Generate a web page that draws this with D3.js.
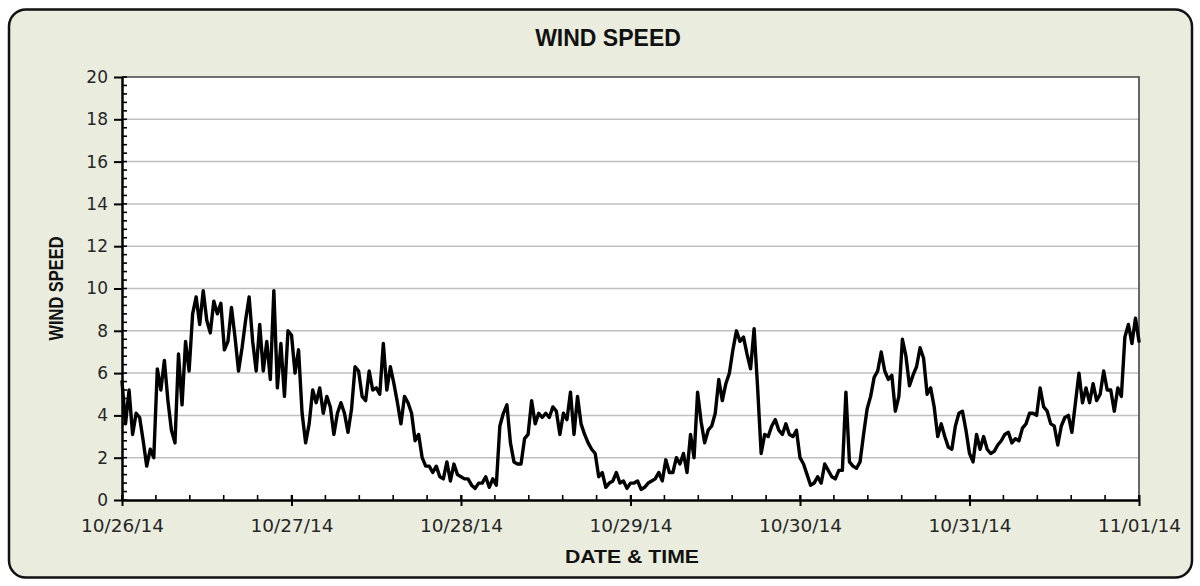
<!DOCTYPE html>
<html>
<head>
<meta charset="utf-8">
<script src="https://cdn.jsdelivr.net/npm/d3@7"></script>
<style>
  body { margin: 0; background: #fff; }
  svg { display: block; }
</style>
</head>
<body>
<div id="chart"></div>
<script>
// readings every 30 minutes starting 10/26/14 00:00
var startTime = "2014-10-26T00:00:00";
var endTime = "2014-11-01T00:00:00";
var stepMinutes = 30;

var speeds = [
  5.6, 3.6, 5.2, 3.1, 4.1, 3.9, 2.8, 1.6, 2.4, 2.0,
  6.2, 5.2, 6.6, 4.7, 3.3, 2.7, 6.9, 4.5, 7.5, 6.1,
  8.8, 9.6, 8.3, 9.9, 8.5, 7.9, 9.4, 8.8, 9.3, 7.1,
  7.5, 9.1, 7.7, 6.1, 7.2, 8.5, 9.6, 7.5, 6.1, 8.3,
  6.1, 7.5, 5.7, 9.9, 5.3, 7.4, 4.9, 8.0,
  7.8, 6.0, 7.1, 4.1, 2.7, 3.6, 5.2, 4.6, 5.3, 4.1,
  4.9, 4.4, 3.1, 4.1, 4.6, 4.1, 3.2, 4.3, 6.3, 6.1,
  4.9, 4.7, 6.1, 5.2, 5.3, 5.0, 7.4, 5.2, 6.3, 5.5,
  4.6, 3.6, 4.9, 4.6, 4.1, 2.8, 3.1, 2.0, 1.6, 1.6,
  1.3, 1.6, 1.1, 1.0, 1.8, 0.9, 1.7, 1.2,
  1.1, 1.0, 1.0, 0.7, 0.55, 0.8, 0.8, 1.1, 0.6, 1.0,
  0.7, 3.5, 4.1, 4.5, 2.7, 1.8, 1.7, 1.7, 2.9, 3.1,
  4.7, 3.6, 4.1, 3.9, 4.1, 3.9, 4.4, 4.2, 3.1, 4.1,
  3.8, 5.1, 3.1, 4.9, 3.6, 3.1, 2.7, 2.4, 2.2, 1.1,
  1.3, 0.6, 0.8, 0.9, 1.3, 0.8, 0.9, 0.55,
  0.8, 0.8, 0.9, 0.5, 0.6, 0.8, 0.9, 1.0, 1.3, 0.9,
  1.9, 1.3, 1.3, 2.0, 1.7, 2.2, 1.3, 3.1, 2.0, 5.1,
  3.7, 2.7, 3.3, 3.5, 4.1, 5.7, 4.7, 5.5, 6.0, 7.1,
  8.0, 7.5, 7.7, 6.9, 6.2, 8.1, 5.3, 2.2, 3.1, 3.0,
  3.5, 3.8, 3.3, 3.1, 3.6, 3.1, 3.0, 3.3, 2.0,
  1.7, 1.2, 0.7, 0.8, 1.1, 0.8, 1.7, 1.4, 1.1, 1.0,
  1.4, 1.4, 5.1, 1.8, 1.6, 1.5, 1.8, 3.1, 4.3, 4.9,
  5.8, 6.1, 7.0, 6.1, 5.7, 5.9, 4.2, 4.9, 7.6, 6.8,
  5.4, 5.9, 6.3, 7.2, 6.7, 5.0, 5.3, 4.4, 3.0, 3.6,
  3.0, 2.5, 2.4, 3.5, 4.1, 4.2, 3.3, 2.2,
  1.8, 3.1, 2.4, 3.0, 2.4, 2.2, 2.3, 2.6, 2.8, 3.1,
  3.2, 2.7, 2.9, 2.8, 3.4, 3.6, 4.1, 4.1, 4.0, 5.3,
  4.4, 4.2, 3.6, 3.5, 2.6, 3.5, 3.9, 4.0, 3.2, 4.6,
  6.0, 4.6, 5.3, 4.6, 5.5, 4.7, 5.0, 6.1, 5.2, 5.2,
  4.2, 5.3, 4.9, 7.7, 8.3, 7.4, 8.6, 7.5
];

var yTicks = [0, 2, 4, 6, 8, 10, 12, 14, 16, 18, 20];
var chartTitle = "WIND SPEED";
var xTitle = "DATE & TIME";
var yTitle = "WIND SPEED";

var svgWidth = 1200;
var svgHeight = 586;

var plot = { left: 122, right: 1139, top: 77, bottom: 500 };

var svg = d3.select("#chart").append("svg")
    .attr("width", svgWidth)
    .attr("height", svgHeight);

// outer frame
svg.append("rect")
    .attr("x", 9)
    .attr("y", 9.5)
    .attr("width", 1183)
    .attr("height", 568)
    .attr("rx", 17)
    .attr("fill", "#eaedde")
    .attr("stroke", "#111")
    .attr("stroke-width", 2.5);

var parse = d3.isoParse;
var t0 = parse(startTime);
var t1 = parse(endTime);

var data = speeds.map(function(v, i) {
  return { time: d3.timeMinute.offset(t0, i * stepMinutes), value: v };
});

var x = d3.scaleTime()
    .domain([t0, t1])
    .range([plot.left, plot.right]);

var y = d3.scaleLinear()
    .domain([0, 20])
    .range([plot.bottom, plot.top]);

// plot area
svg.append("rect")
    .attr("x", plot.left)
    .attr("y", plot.top)
    .attr("width", plot.right - plot.left)
    .attr("height", plot.bottom - plot.top)
    .attr("fill", "#fff");

// gridlines
svg.append("g")
  .selectAll("line")
  .data(yTicks.slice(1, -1))
  .enter()
  .append("line")
    .attr("x1", plot.left)
    .attr("x2", plot.right)
    .attr("y1", function(d) { return y(d); })
    .attr("y2", function(d) { return y(d); })
    .attr("stroke", "#bfbfbf")
    .attr("stroke-width", 1.5);

// top / right border
svg.append("path")
    .attr("d", `M${plot.left},${plot.top}H${plot.right}V${plot.bottom}`)
    .attr("fill", "none")
    .attr("stroke", "#444")
    .attr("stroke-width", 1.6);

// minor ticks
var yMinor = d3.range(0, 20.001, 0.4);
svg.append("g")
  .selectAll("line")
  .data(yMinor)
  .enter()
  .append("line")
    .attr("x1", plot.left)
    .attr("x2", plot.left + 5)
    .attr("y1", function(d) { return y(d); })
    .attr("y2", function(d) { return y(d); })
    .attr("stroke", "#000")
    .attr("stroke-width", 1.6);

var xMinor = d3.range(0, 31).map(function(i) { return d3.timeMinute.offset(t0, i * 288); });
svg.append("g")
  .selectAll("line")
  .data(xMinor)
  .enter()
  .append("line")
    .attr("x1", function(d) { return x(d); })
    .attr("x2", function(d) { return x(d); })
    .attr("y1", plot.bottom)
    .attr("y2", plot.bottom - 5)
    .attr("stroke", "#000")
    .attr("stroke-width", 1.6);

// axes
var yAxis = d3.axisLeft(y)
    .tickValues(yTicks)
    .tickSizeInner(8)
    .tickSizeOuter(0)
    .tickPadding(6);

var xAxis = d3.axisBottom(x)
    .ticks(d3.timeDay.every(1))
    .tickFormat(d3.timeFormat("%m/%d/%y"))
    .tickSizeInner(6)
    .tickSizeOuter(0)
    .tickPadding(13);

var gy = svg.append("g")
    .attr("transform", `translate(${plot.left},0)`)
    .call(yAxis);

var gx = svg.append("g")
    .attr("transform", `translate(0,${plot.bottom})`)
    .call(xAxis);

[gx, gy].forEach(function(g) {
  g.select(".domain").attr("stroke", "#000").attr("stroke-width", 2.5);
  g.selectAll(".tick line").attr("stroke", "#000").attr("stroke-width", 2);
  g.selectAll(".tick text")
    .attr("fill", "#262626")
    .style("font-family", "'DejaVu Sans', Verdana, sans-serif");
});
gy.selectAll(".tick text").style("font-size", "17px");
gx.selectAll(".tick text").style("font-size", "18.5px");
gx.selectAll(".tick line").attr("y1", -5);

// series
var line = d3.line()
    .x(function(d) { return x(d.time); })
    .y(function(d) { return y(d.value); });

svg.append("path")
    .datum(data)
    .attr("d", line)
    .attr("fill", "none")
    .attr("stroke", "#000")
    .attr("stroke-width", 3.4)
    .attr("stroke-linejoin", "round")
    .attr("stroke-linecap", "round");

// titles
svg.append("text")
    .attr("x", 608)
    .attr("y", 46)
    .attr("text-anchor", "middle")
    .style("font-family", "'Liberation Sans', Arial, sans-serif")
    .style("font-weight", "bold")
    .style("font-size", "23px")
    .attr("fill", "#111")
    .text(chartTitle);

svg.append("text")
    .attr("x", 632)
    .attr("y", 563)
    .attr("text-anchor", "middle")
    .attr("textLength", 134)
    .attr("lengthAdjust", "spacingAndGlyphs")
    .style("font-family", "'Liberation Sans', Arial, sans-serif")
    .style("font-weight", "bold")
    .style("font-size", "18px")
    .attr("fill", "#111")
    .text(xTitle);

svg.append("text")
    .attr("transform", "translate(63,288.5) rotate(-90)")
    .attr("text-anchor", "middle")
    .attr("textLength", 104)
    .attr("lengthAdjust", "spacingAndGlyphs")
    .style("font-family", "'Liberation Sans', Arial, sans-serif")
    .style("font-weight", "bold")
    .style("font-size", "20px")
    .attr("fill", "#111")
    .text(yTitle);
</script>
</body>
</html>
